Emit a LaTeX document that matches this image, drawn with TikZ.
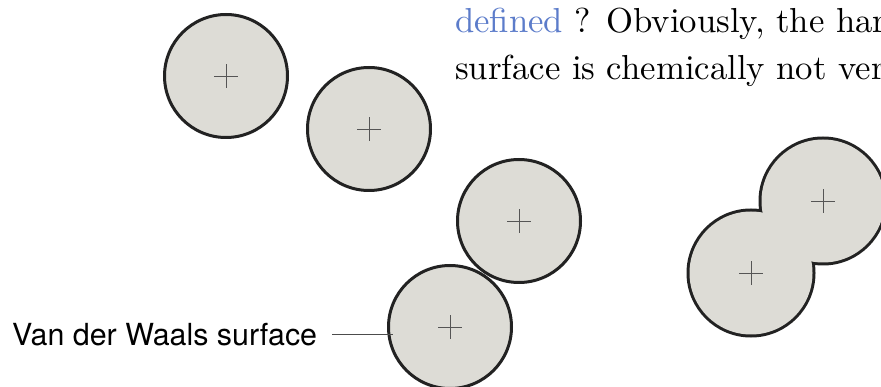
\documentclass[tikz,border=0pt]{standalone}
\usepackage{fontspec}
\setmainfont{lmroman10-regular}[Extension=.otf]
\newfontfamily\heros{TeX Gyre Heros}
\definecolor{atomfill}{HTML}{DDDCD6}
\definecolor{atomline}{HTML}{222222}
\definecolor{crossc}{HTML}{555555}
\definecolor{linkblue}{RGB}{92,124,202}
\tikzset{
  atom/.style={circle, minimum size=123pt, inner sep=0pt, fill=atomfill, draw=atomline, line width=3pt},
  atomshape/.style={circle, minimum size=123pt, inner sep=0pt},
  crossmark/.style={draw=crossc, line width=0.9pt},
  leader/.style={draw=black!70, line width=0.9pt},
  bodytext/.style={anchor=base west, inner sep=0pt, font=\fontsize{34.7}{47}\selectfont},
  labeltext/.style={anchor=base west, inner sep=0pt, font=\heros\fontsize{30.4}{36}\selectfont},
}
\newcommand{\atomcross}[1]{\draw[crossmark] ([xshift=-12pt]#1.center) -- ([xshift=12pt]#1.center) ([yshift=-12pt]#1.center) -- ([yshift=12pt]#1.center);}
\begin{document}
\begin{tikzpicture}[x=1pt,y=-1pt]
\useasboundingbox (0,0) rectangle (881,387);
\clip (0,0) rectangle (881,387);
% separate atoms
\node[atom] (c1) at (226,76) {};
\node[atom] (c2) at (369,129) {};
\node[atom] (c3) at (519,221) {};
\node[atom] (c4) at (450,327) {};
% fused pair (union outline)
\node[atomshape, draw=atomline, line width=6pt] (c5) at (751,273) {};
\node[atomshape, draw=atomline, line width=6pt] (c6) at (823,201) {};
\node[atomshape, fill=atomfill] at (c5.center) {};
\node[atomshape, fill=atomfill] at (c6.center) {};
\atomcross{c1}
\atomcross{c2}
\atomcross{c3}
\atomcross{c4}
\atomcross{c5}
\atomcross{c6}
% label
\node[labeltext] (lbl) at (12,345) {Van der Waals surface};
\coordinate (lend) at (393,333);
\draw[leader] ([xshift=15pt]lbl.east) -- (lbl.east -| lend);
% body text
\node[bodytext] (t1) at (455,33) {\textcolor{linkblue}{defined} ? Obviously, the har};
\node[bodytext] (t2) at (455,80) {surface is chemically not ver};
\end{tikzpicture}
\end{document}
